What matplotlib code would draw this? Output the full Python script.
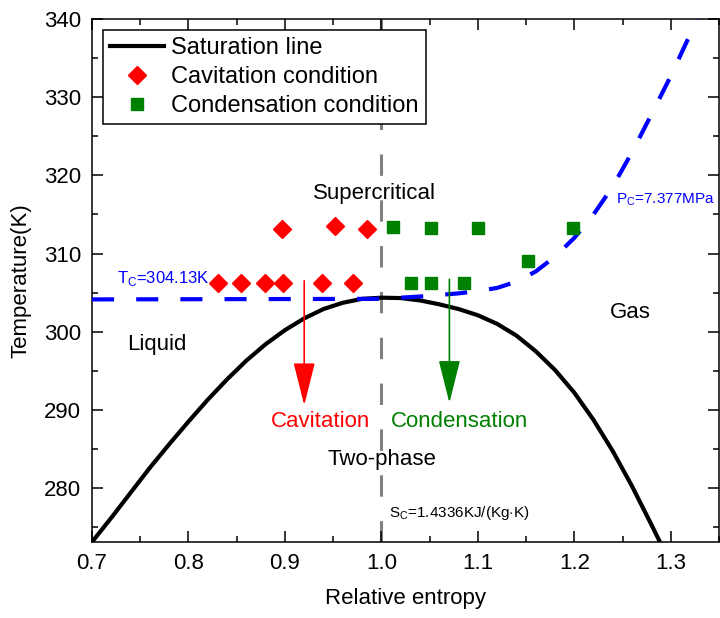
import numpy as np
import matplotlib
matplotlib.use('Agg')
import matplotlib.pyplot as plt

plt.rcParams['font.family'] = ['Liberation Sans', 'DejaVu Sans']
plt.rcParams['mathtext.fontset'] = 'custom'
plt.rcParams['mathtext.rm'] = 'Liberation Sans'

# saturation line (relative entropy, K)
sat_s = [0.70, 0.72, 0.74, 0.76, 0.78, 0.80, 0.82, 0.84, 0.86, 0.88, 0.90, 0.92,
         0.94, 0.96, 0.98, 1.00, 1.02, 1.04, 1.06, 1.08, 1.10, 1.12, 1.14, 1.16,
         1.18, 1.20, 1.22, 1.24, 1.26, 1.28, 1.292]
sat_T = [273.1, 276.2, 279.4, 282.6, 285.6, 288.5, 291.3, 293.9, 296.3, 298.4, 300.2, 301.7,
         302.9, 303.7, 304.2, 304.35, 304.3, 304.0, 303.5, 302.9, 302.1, 301.0, 299.5, 297.5,
         295.1, 292.2, 288.7, 284.7, 280.2, 275.3, 272.3]

# critical pressure isobar
pc_s = [0.70, 1.00, 1.04, 1.08, 1.10, 1.12, 1.14, 1.16, 1.18, 1.20,
        1.22, 1.24, 1.26, 1.28, 1.30, 1.32, 1.335]
pc_T = [304.13, 304.2, 304.5, 304.9, 305.2, 305.6, 306.4, 307.7, 309.6, 312.0,
        315.0, 318.6, 323.0, 327.8, 332.7, 338.0, 342.0]

# operating conditions
cav_s = [0.831, 0.854, 0.879, 0.898, 0.938, 0.971, 0.897, 0.952, 0.985]
cav_T = [306.2, 306.2, 306.2, 306.2, 306.2, 306.2, 313.1, 313.5, 313.1]
cond_s = [1.012, 1.051, 1.100, 1.199, 1.031, 1.051, 1.086, 1.152]
cond_T = [313.4, 313.2, 313.2, 313.2, 306.2, 306.2, 306.2, 309.1]

fig = plt.figure(figsize=(7.2, 6.18), dpi=100)
ax = fig.add_axes([0.1278, 0.1230, 0.8708, 0.8463])

ax.axvline(1.0, color='#808080', lw=2.2, dashes=(7, 8), zorder=1)
ax.plot(sat_s, sat_T, color='black', lw=3, label='Saturation line', zorder=2)
ax.plot(pc_s, pc_T, color='#0000ff', lw=3, dashes=(5.3, 5.3), zorder=3)
ax.plot(cav_s, cav_T, 'D', color='#ff0000', ms=9, ls='none',
        label='Cavitation condition', zorder=4)
ax.plot(cond_s, cond_T, 's', color='#008000', ms=8, ls='none',
        label='Condensation condition', zorder=4)

# arrows
ax.annotate('', xy=(0.920, 290.6), xytext=(0.920, 306.5),
            arrowprops=dict(arrowstyle='-|>,head_width=0.68,head_length=2.7',
                            color='#ff0000', lw=1.2, mutation_scale=10,
                            shrinkA=0, shrinkB=0))
ax.annotate('', xy=(1.0705, 290.9), xytext=(1.0705, 306.7),
            arrowprops=dict(arrowstyle='-|>,head_width=0.68,head_length=2.7',
                            color='#008000', lw=1.2, mutation_scale=10,
                            shrinkA=0, shrinkB=0))

# labels inside plot
ax.text(0.993, 317.7, 'Supercritical', fontsize=16, ha='center', va='center')
ax.text(0.736, 298.3, 'Liquid', fontsize=16, ha='left', va='center')
ax.text(1.258, 302.4, 'Gas', fontsize=16, ha='center', va='center')
ax.text(1.001, 283.6, 'Two-phase', fontsize=16, ha='center', va='center')
ax.text(0.937, 288.5, 'Cavitation', fontsize=16, color='#ff0000', ha='center', va='center')
ax.text(1.081, 288.5, 'Condensation', fontsize=16, color='#008000', ha='center', va='center')
ax.text(0.7256, 306.8, r'T$_\mathrm{C}$=304.13K', fontsize=12, color='#0000ff',
        ha='left', va='center')
ax.text(1.243, 316.9, r'P$_\mathrm{C}$=7.377MPa', fontsize=11, color='#0000ff',
        ha='left', va='center')
ax.text(1.008, 276.8, r'S$_\mathrm{C}$=1.4336KJ/(Kg$\cdot$K)', fontsize=11,
        ha='left', va='center')

ax.set_xlim(0.7, 1.343)
ax.set_ylim(273.1, 340)
ax.set_xticks([0.7, 0.8, 0.9, 1.0, 1.1, 1.2, 1.3])
ax.set_xticks(np.arange(0.75, 1.35, 0.1), minor=True)
ax.set_yticks(np.arange(280, 341, 10))
ax.set_yticks(np.arange(275, 341, 10), minor=True)
ax.tick_params(which='both', direction='in', top=True, right=True,
               labelsize=16, width=1.1, pad=8)
ax.tick_params(which='major', length=8)
ax.tick_params(which='minor', length=4)
for sp in ax.spines.values():
    sp.set_linewidth(1.1)

ax.set_xlabel('Relative entropy', fontsize=16, labelpad=10)
ax.set_ylabel('Temperature(K)', fontsize=16, labelpad=9)

leg = ax.legend(loc='upper left', bbox_to_anchor=(0.0175, 0.979),
                borderaxespad=0, fontsize=17, handlelength=2.3,
                handletextpad=0.3, labelspacing=0.3, borderpad=0.3,
                fancybox=False, framealpha=1, edgecolor='black')
leg.get_frame().set_linewidth(1.1)

fig.savefig('out.png', dpi=100)
